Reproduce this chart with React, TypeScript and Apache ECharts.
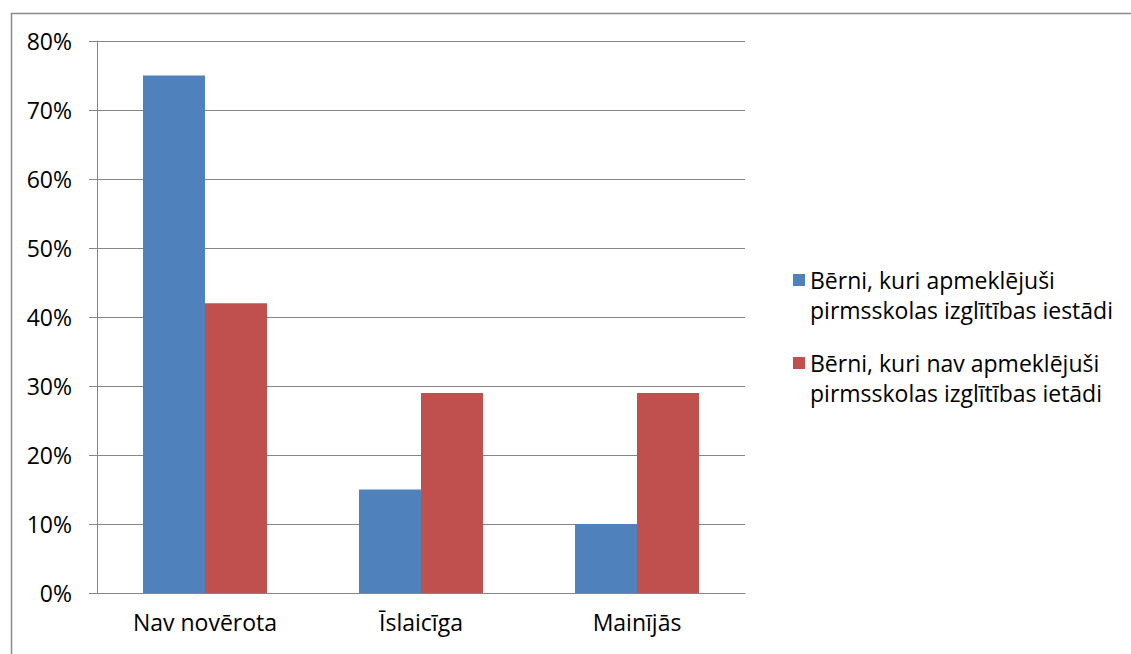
import React, { useEffect, useRef } from "react";
import * as echarts from "echarts";

// Categories and shares (%) of children by group
const categories = ["Nav novērota", "Īslaicīga", "Mainījās"];
const attendedValues = [75, 15, 10];
const notAttendedValues = [42, 29, 29];
const seriesNames = [
  "Bērni, kuri apmeklējuši\npirmsskolas izglītības iestādi",
  "Bērni, kuri nav apmeklējuši\npirmsskolas izglītības ietādi",
];
const yTicks = { min: 0, max: 80, interval: 10 };

const FONT = "'Open Sans', 'Noto Sans', sans-serif";
const FONT_SIZE = 23;
const GRID_COLOR = "#868686";

export default function App() {
  const ref = useRef<HTMLDivElement>(null);

  useEffect(() => {
    document.body.style.margin = "0";
    if (!ref.current) return;
    const chart = echarts.init(ref.current, undefined, { renderer: "svg" });
    chart.setOption({
      animation: false,
      backgroundColor: "#ffffff",
      textStyle: { fontFamily: FONT },
      graphic: [
        {
          type: "rect",
          left: 9,
          top: 11,
          shape: { width: 1200, height: 700 },
          style: { fill: "none", stroke: "#8c8c8c", lineWidth: 1.5 },
          silent: true,
        },
      ],
      grid: { left: 97, top: 41, right: 386, bottom: 61, containLabel: false },
      legend: {
        orient: "vertical",
        left: 788,
        top: 230,
        itemWidth: 12,
        itemHeight: 12,
        itemGap: -7,
        icon: "rect",
        // a leading blank line keeps the first line of each label level with its marker
        formatter: (name: string) => "\n" + name,
        textStyle: {
          fontFamily: FONT,
          fontSize: FONT_SIZE,
          color: "#000",
          lineHeight: 30,
        },
        data: seriesNames,
      },
      xAxis: {
        type: "category",
        data: categories,
        axisLine: { lineStyle: { color: GRID_COLOR, width: 1 } },
        axisTick: { length: 8, lineStyle: { color: GRID_COLOR } },
        axisLabel: { color: "#000", fontSize: FONT_SIZE, margin: 17, fontFamily: FONT },
      },
      yAxis: {
        type: "value",
        min: yTicks.min,
        max: yTicks.max,
        interval: yTicks.interval,
        axisLine: { show: true, lineStyle: { color: GRID_COLOR, width: 1 } },
        axisTick: { show: true, length: 8, lineStyle: { color: GRID_COLOR } },
        splitLine: { lineStyle: { color: GRID_COLOR, width: 1 } },
        axisLabel: {
          color: "#000",
          fontSize: FONT_SIZE,
          margin: 25,
          fontFamily: FONT,
          formatter: "{value}%",
        },
      },
      series: [
        {
          name: seriesNames[0],
          type: "bar",
          data: attendedValues,
          itemStyle: { color: "#4F81BD" },
          barGap: "0%",
          barCategoryGap: "42.6%",
        },
        {
          name: seriesNames[1],
          type: "bar",
          data: notAttendedValues,
          itemStyle: { color: "#C0504D" },
          barGap: "0%",
          barCategoryGap: "42.6%",
        },
      ],
    });
    return () => chart.dispose();
  }, []);

  return <div ref={ref} style={{ width: 1131, height: 654 }} />;
}
